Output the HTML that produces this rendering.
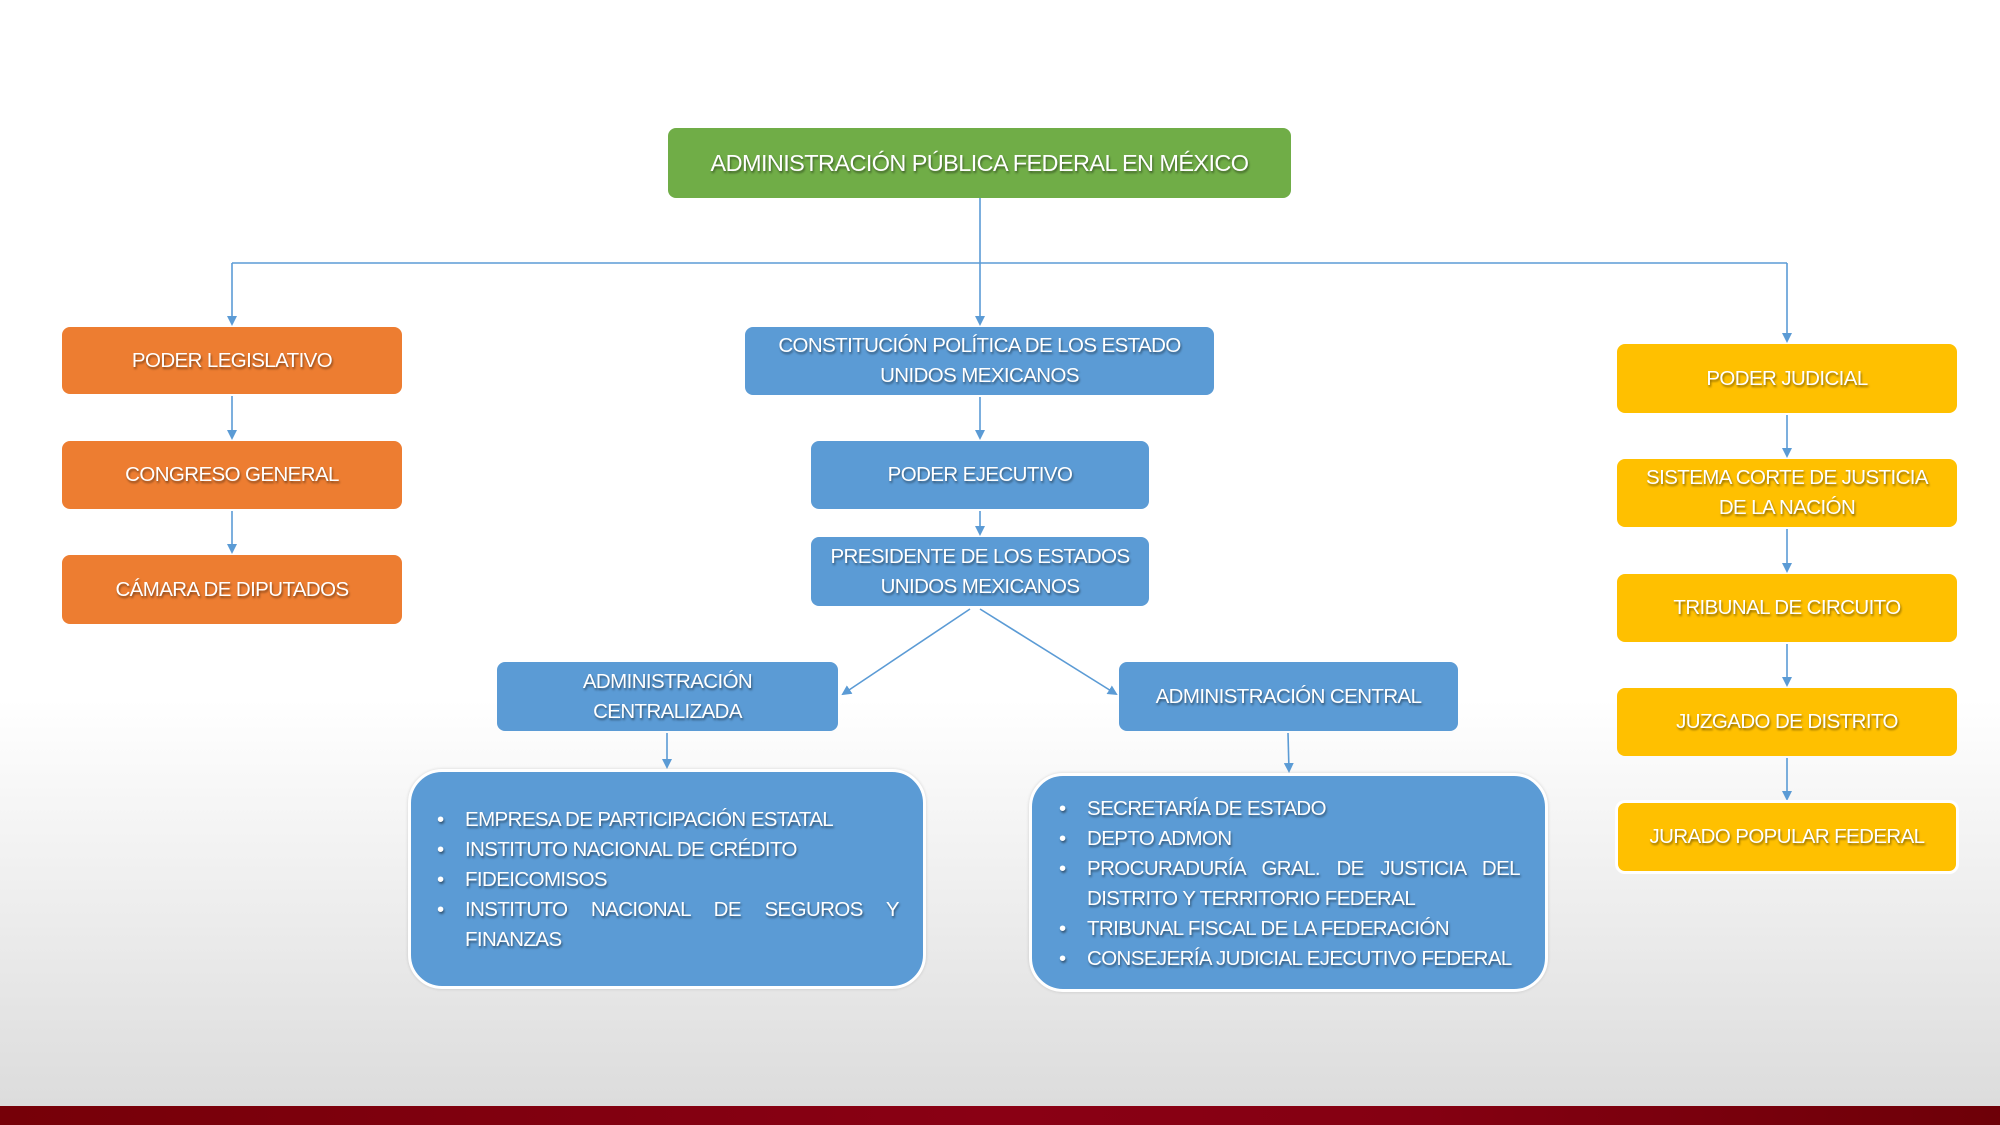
<!DOCTYPE html>
<html><head><meta charset="utf-8"><style>
*{margin:0;padding:0;box-sizing:border-box}
body{width:2000px;height:1125px;position:relative;overflow:hidden;
background:linear-gradient(to bottom,#fff 0px,#fff 700px,#dcdcdc 1106px);
font-family:"Liberation Sans",sans-serif;color:#fff}
.b{position:absolute;display:flex;align-items:center;justify-content:center;text-align:center;white-space:nowrap;
border-radius:8px;font-size:20.5px;letter-spacing:-0.6px;line-height:30px;text-shadow:1px 2px 2px rgba(0,0,0,.45)}
.o{background:#ED7D31}.bl{background:#5B9BD5}.y{background:#FFC000}.g{background:#70AD47}
.l{position:absolute;background:#5B9BD5;border:3px solid #fff;border-radius:34px;font-size:20.5px;letter-spacing:-0.6px;line-height:30px;
text-shadow:1px 2px 2px rgba(0,0,0,.45);box-shadow:0 0 3px rgba(0,0,0,.15)}
.l ul{list-style:none}
.l li{position:relative;text-align:justify;text-align-last:left}
.l li:before{content:"•";position:absolute;left:-28px}
#bar{position:absolute;left:0;top:1106px;width:2000px;height:19px;
background:linear-gradient(to right,#760008,#820010 30%,#8a0014 50%,#850012 70%,#6e0008)}
</style></head><body>
<svg width="2000" height="1125" style="position:absolute;left:0;top:0">
<defs><marker id="a" markerWidth="10" markerHeight="10" refX="8" refY="5" orient="auto" markerUnits="userSpaceOnUse"><path d="M0,0 L10,5 L0,10 z" fill="#5B9BD5"/></marker></defs>
<g stroke="#5B9BD5" stroke-width="1.6" fill="none">
<line x1="980" y1="198" x2="980" y2="263"/>
<line x1="232" y1="263" x2="1787" y2="263"/>
<line x1="232" y1="263" x2="232" y2="324" marker-end="url(#a)"/>
<line x1="980" y1="263" x2="980" y2="324" marker-end="url(#a)"/>
<line x1="1787" y1="263" x2="1787" y2="341" marker-end="url(#a)"/>
<line x1="232" y1="396" x2="232" y2="438" marker-end="url(#a)"/>
<line x1="232" y1="511" x2="232" y2="552" marker-end="url(#a)"/>
<line x1="980" y1="397" x2="980" y2="438" marker-end="url(#a)"/>
<line x1="980" y1="511" x2="980" y2="534" marker-end="url(#a)"/>
<line x1="970" y1="609" x2="843" y2="694" marker-end="url(#a)"/>
<line x1="980" y1="609" x2="1116" y2="694" marker-end="url(#a)"/>
<line x1="667" y1="733" x2="667" y2="767" marker-end="url(#a)"/>
<line x1="1288" y1="733" x2="1289" y2="771" marker-end="url(#a)"/>
<line x1="1787" y1="415" x2="1787" y2="456" marker-end="url(#a)"/>
<line x1="1787" y1="529" x2="1787" y2="571" marker-end="url(#a)"/>
<line x1="1787" y1="644" x2="1787" y2="685" marker-end="url(#a)"/>
<line x1="1787" y1="758" x2="1787" y2="799" marker-end="url(#a)"/>
</g></svg>
<div class="b g" style="left:668px;top:128px;width:623px;height:70px;font-size:23.5px">ADMINISTRACIÓN PÚBLICA FEDERAL EN MÉXICO</div>
<div class="b o" style="left:62px;top:327px;width:340px;height:67px">PODER LEGISLATIVO</div>
<div class="b o" style="left:62px;top:441px;width:340px;height:68px">CONGRESO GENERAL</div>
<div class="b o" style="left:62px;top:555px;width:340px;height:69px">CÁMARA DE DIPUTADOS</div>
<div class="b bl" style="left:745px;top:327px;width:469px;height:68px">CONSTITUCIÓN POLÍTICA DE LOS ESTADO<br>UNIDOS MEXICANOS</div>
<div class="b bl" style="left:811px;top:441px;width:338px;height:68px">PODER EJECUTIVO</div>
<div class="b bl" style="left:811px;top:537px;width:338px;height:69px">PRESIDENTE DE LOS ESTADOS<br>UNIDOS MEXICANOS</div>
<div class="b bl" style="left:497px;top:662px;width:341px;height:69px">ADMINISTRACIÓN<br>CENTRALIZADA</div>
<div class="b bl" style="left:1119px;top:662px;width:339px;height:69px">ADMINISTRACIÓN CENTRAL</div>
<div class="b y" style="left:1617px;top:344px;width:340px;height:69px">PODER JUDICIAL</div>
<div class="b y" style="left:1617px;top:459px;width:340px;height:68px">SISTEMA CORTE DE JUSTICIA<br>DE LA NACIÓN</div>
<div class="b y" style="left:1617px;top:574px;width:340px;height:68px">TRIBUNAL DE CIRCUITO</div>
<div class="b y" style="left:1617px;top:688px;width:340px;height:68px">JUZGADO DE DISTRITO</div>
<div class="b y" style="left:1615px;top:800px;width:344px;height:74px;border:3px solid #fff;border-radius:10px">JURADO POPULAR FEDERAL</div>
<div class="l" style="left:408px;top:769px;width:518px;height:220px;padding:33px 24px 0 54px">
<ul><li>EMPRESA DE PARTICIPACIÓN ESTATAL</li><li>INSTITUTO NACIONAL DE CRÉDITO</li><li>FIDEICOMISOS</li><li>INSTITUTO NACIONAL DE SEGUROS Y FINANZAS</li></ul></div>
<div class="l" style="left:1029px;top:773px;width:519px;height:219px;padding:18px 25px 0 55px">
<ul><li>SECRETARÍA DE ESTADO</li><li>DEPTO ADMON</li><li>PROCURADURÍA GRAL. DE JUSTICIA DEL DISTRITO Y TERRITORIO FEDERAL</li><li>TRIBUNAL FISCAL DE LA FEDERACIÓN</li><li>CONSEJERÍA JUDICIAL EJECUTIVO FEDERAL</li></ul></div>
<div id="bar"></div>
</body></html>
